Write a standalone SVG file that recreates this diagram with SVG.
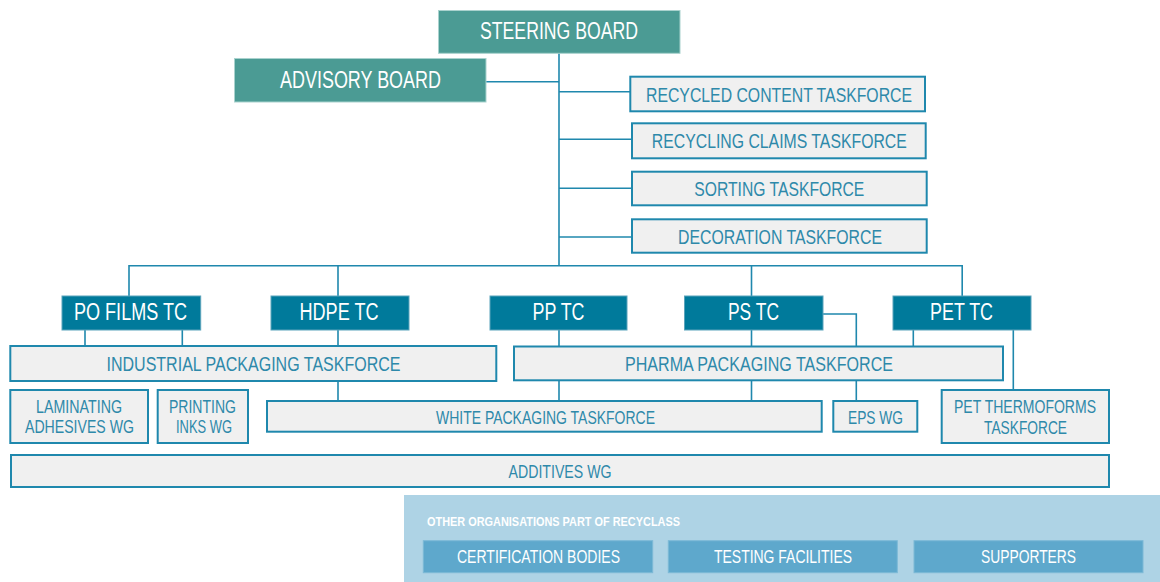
<svg xmlns="http://www.w3.org/2000/svg" width="1160" height="582" viewBox="0 0 1160 582">
<style>
text{font-family:"Liberation Sans Narrow","Liberation Sans",Arial,sans-serif;text-anchor:middle}
.board{fill:#4b9b94;stroke:#a9d2ce;stroke-width:1}
.tc{fill:#007a9b;stroke:#5aa3bb;stroke-width:1}
.tf{fill:#f0f0f0;stroke:#1f88ad;stroke-width:2}
.btn{fill:#5ea8cc;stroke:#7cb9d6;stroke-width:1}
.wt{fill:#ffffff}
.bt{fill:#2e89aa}
.big{font-size:23px}
.mid{font-size:20px}
.sm{font-size:17.5px}
.conn{stroke:#1f88ad;stroke-width:1.6;fill:none}
</style>
<rect width="1160" height="582" fill="#ffffff"/>
<g id="connectors" class="conn">
<path d="M559 53V266"/>
<path d="M486 81.7H559"/>
<path d="M559 91.7H630"/>
<path d="M559 139.3H632"/>
<path d="M559 188.3H632"/>
<path d="M559 237H632"/>
<path d="M129 296V265.7H962.2V296"/>
<path d="M338 265.7V296"/>
<path d="M751.5 265.7V296"/>
<path d="M85 330V346"/>
<path d="M182.3 330V346"/>
<path d="M338 330V346"/>
<path d="M559 330V346.5"/>
<path d="M751.5 330V346.5"/>
<path d="M823 314H856.3V401"/>
<path d="M913.3 330V346.5"/>
<path d="M1013.3 330V390"/>
<path d="M338 381V401"/>
<path d="M559 380V401"/>
<path d="M751.5 380V401"/>
</g>
<g id="steering-board">
<rect class="board" x="438.5" y="10.5" width="241.5" height="42.8"/>
<text class="wt big" x="559" y="39" textLength="158" lengthAdjust="spacingAndGlyphs">STEERING BOARD</text>
</g>
<g id="advisory-board">
<rect class="board" x="234.5" y="58.5" width="251.5" height="43.5"/>
<text class="wt big" x="360.5" y="88" textLength="161" lengthAdjust="spacingAndGlyphs">ADVISORY BOARD</text>
</g>
<g id="recycled-content-taskforce">
<rect class="tf" x="630.3" y="76.7" width="294.7" height="34.6"/>
<text class="bt mid" x="779" y="101.7" textLength="266" lengthAdjust="spacingAndGlyphs">RECYCLED CONTENT TASKFORCE</text>
</g>
<g id="recycling-claims-taskforce">
<rect class="tf" x="632" y="123.3" width="293.7" height="35"/>
<text class="bt mid" x="779.3" y="148.3" textLength="255" lengthAdjust="spacingAndGlyphs">RECYCLING CLAIMS TASKFORCE</text>
</g>
<g id="sorting-taskforce">
<rect class="tf" x="632" y="171.7" width="294.7" height="33.6"/>
<text class="bt mid" x="779.3" y="196" textLength="170" lengthAdjust="spacingAndGlyphs">SORTING TASKFORCE</text>
</g>
<g id="decoration-taskforce">
<rect class="tf" x="632" y="219.3" width="294.7" height="33.4"/>
<text class="bt mid" x="780" y="243.6" textLength="204" lengthAdjust="spacingAndGlyphs">DECORATION TASKFORCE</text>
</g>
<g id="po-films-tc">
<rect class="tc" x="62" y="296" width="138.7" height="34"/>
<text class="wt big" x="130.5" y="320" textLength="113" lengthAdjust="spacingAndGlyphs">PO FILMS TC</text>
</g>
<g id="hdpe-tc">
<rect class="tc" x="271" y="296" width="138" height="34"/>
<text class="wt big" x="339" y="320" textLength="79" lengthAdjust="spacingAndGlyphs">HDPE TC</text>
</g>
<g id="pp-tc">
<rect class="tc" x="490" y="296" width="137" height="34"/>
<text class="wt big" x="558.5" y="320" textLength="52" lengthAdjust="spacingAndGlyphs">PP TC</text>
</g>
<g id="ps-tc">
<rect class="tc" x="684.5" y="296" width="138.5" height="34"/>
<text class="wt big" x="753.5" y="320" textLength="51" lengthAdjust="spacingAndGlyphs">PS TC</text>
</g>
<g id="pet-tc">
<rect class="tc" x="893" y="296" width="138" height="34"/>
<text class="wt big" x="961.5" y="320" textLength="63" lengthAdjust="spacingAndGlyphs">PET TC</text>
</g>
<g id="industrial-packaging-taskforce">
<rect class="tf" x="10.3" y="346" width="486" height="35"/>
<text class="bt mid" x="253.5" y="371" textLength="294" lengthAdjust="spacingAndGlyphs">INDUSTRIAL PACKAGING TASKFORCE</text>
</g>
<g id="pharma-packaging-taskforce">
<rect class="tf" x="514" y="346.5" width="489" height="33.8"/>
<text class="bt mid" x="759" y="371" textLength="268" lengthAdjust="spacingAndGlyphs">PHARMA PACKAGING TASKFORCE</text>
</g>
<g id="laminating-adhesives-wg">
<rect class="tf" x="10.3" y="390" width="137.7" height="53"/>
<text class="bt sm" x="79" y="412.7" textLength="86" lengthAdjust="spacingAndGlyphs">LAMINATING</text>
<text class="bt sm" x="79.5" y="433.3" textLength="109" lengthAdjust="spacingAndGlyphs">ADHESIVES WG</text>
</g>
<g id="printing-inks-wg">
<rect class="tf" x="157.7" y="390" width="90.3" height="53"/>
<text class="bt sm" x="202.5" y="412.7" textLength="67" lengthAdjust="spacingAndGlyphs">PRINTING</text>
<text class="bt sm" x="204" y="433.3" textLength="56" lengthAdjust="spacingAndGlyphs">INKS WG</text>
</g>
<g id="white-packaging-taskforce">
<rect class="tf" x="267" y="401" width="554.7" height="30.7"/>
<text class="bt sm" x="545.5" y="424" textLength="219" lengthAdjust="spacingAndGlyphs">WHITE PACKAGING TASKFORCE</text>
</g>
<g id="eps-wg">
<rect class="tf" x="833.3" y="401" width="84" height="30.7"/>
<text class="bt sm" x="875.5" y="424" textLength="55" lengthAdjust="spacingAndGlyphs">EPS WG</text>
</g>
<g id="pet-thermoforms-taskforce">
<rect class="tf" x="941.7" y="390" width="167.3" height="53"/>
<text class="bt sm" x="1025" y="413.4" textLength="142" lengthAdjust="spacingAndGlyphs">PET THERMOFORMS</text>
<text class="bt sm" x="1025.5" y="434" textLength="83" lengthAdjust="spacingAndGlyphs">TASKFORCE</text>
</g>
<g id="additives-wg">
<rect class="tf" x="11" y="455" width="1098" height="32"/>
<text class="bt sm" x="560" y="478" textLength="103" lengthAdjust="spacingAndGlyphs">ADDITIVES WG</text>
</g>
<g id="other-organisations">
<rect x="404" y="495" width="756" height="87" fill="#aed3e5"/>
<text class="wt" x="427" y="526" style="text-anchor:start;font-size:12.5px;font-weight:bold" textLength="253" lengthAdjust="spacingAndGlyphs">OTHER ORGANISATIONS PART OF RECYCLASS</text>
</g>
<g id="certification-bodies">
<rect class="btn" x="423.3" y="540.7" width="229.4" height="32"/>
<text class="wt" style="font-size:18px" x="538.5" y="563.3" textLength="163" lengthAdjust="spacingAndGlyphs">CERTIFICATION BODIES</text>
</g>
<g id="testing-facilities">
<rect class="btn" x="668.3" y="540.7" width="229" height="32"/>
<text class="wt" style="font-size:18px" x="783" y="563.3" textLength="138" lengthAdjust="spacingAndGlyphs">TESTING FACILITIES</text>
</g>
<g id="supporters">
<rect class="btn" x="914" y="540.7" width="229" height="32"/>
<text class="wt" style="font-size:18px" x="1028.5" y="563.3" textLength="95" lengthAdjust="spacingAndGlyphs">SUPPORTERS</text>
</g>
</svg>
